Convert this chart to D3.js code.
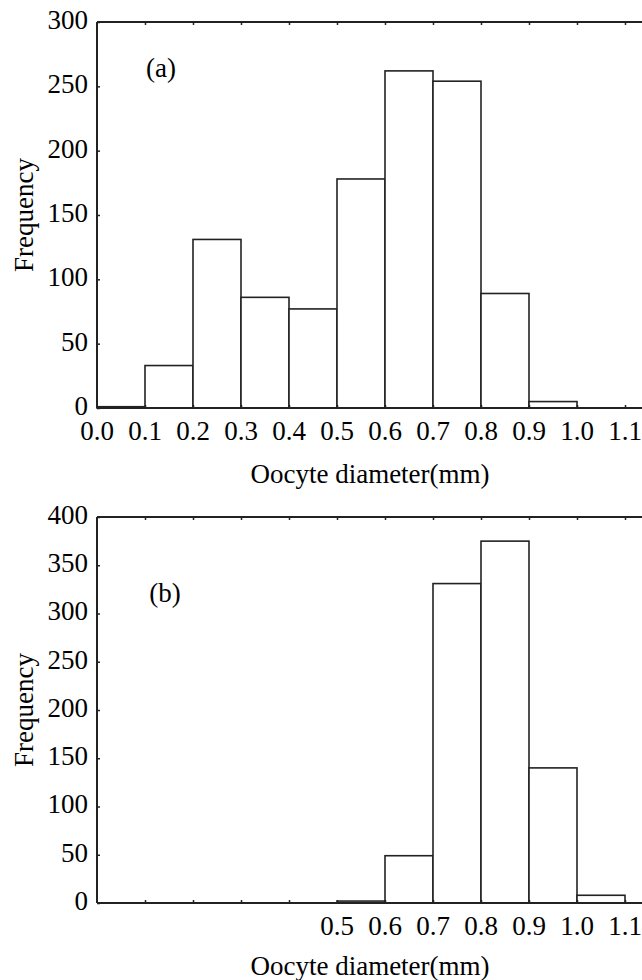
<!DOCTYPE html>
<html><head><meta charset="utf-8">
<script src="https://cdn.jsdelivr.net/npm/d3@7"></script>
<style>body{margin:0;background:#fff}svg{display:block}text{font-family:"Liberation Serif","Times New Roman",serif;fill:#000}</style>
</head><body><svg id="c" width="642" height="980"></svg>
<script>
const binStarts = [0.0,0.1,0.2,0.3,0.4,0.5,0.6,0.7,0.8,0.9,1.0];
const freqA = [1,33,131,86,77,178,262,254,89,5,0];
const freqB = [0,0,0,0,0,2,49,331,375,140,8];
const xTicksA = ["0.0","0.1","0.2","0.3","0.4","0.5","0.6","0.7","0.8","0.9","1.0","1.1"];
const xTicksB = ["0.5","0.6","0.7","0.8","0.9","1.0","1.1"];
const yTicksA = [0,50,100,150,200,250,300];
const yTicksB = [0,50,100,150,200,250,300,350,400];
const panels = [
  {label:"(a)", freq:freqA, xt:xTicksA, yt:yTicksA, ymax:300, top:22, bottom:408, lab:[161,77], xlabY:483, ticklabY:440},
  {label:"(b)", freq:freqB, xt:xTicksB, yt:yTicksB, ymax:400, top:517, bottom:903, lab:[165,602], xlabY:975, ticklabY:935}
];
const FS = 27;
const svg = d3.select("#c");
const bw = 0.1;
const x = d3.scaleLinear().domain([0,1.2]).range([97,673]);
const stroke = "#222";
panels.forEach(p=>{
  const y = d3.scaleLinear().domain([0,p.ymax]).range([p.bottom,p.top]);
  const g = svg.append("g");
  g.selectAll("rect.bar").data(binStarts.map((b,i)=>({b,v:p.freq[i]})).filter(d=>d.v>0))
   .enter().append("rect")
   .attr("x",d=>x(d.b)).attr("width",d=>x(d.b+bw)-x(d.b))
   .attr("y",d=>y(d.v)).attr("height",d=>y(0)-y(d.v))
   .attr("fill","#fff").attr("stroke",stroke).attr("stroke-width",1.6);
  const ya = g.append("g").attr("transform",`translate(${x(0)},0)`)
    .call(d3.axisLeft(y).tickValues(p.yt).tickSize(-3).tickPadding(9).tickFormat(d3.format("d")));
  const xa = g.append("g").attr("transform",`translate(0,${p.top})`)
    .call(d3.axisTop(x).tickValues(d3.range(1,13).map(i=>i/10)).tickSize(-3).tickFormat(""));
  const xb = g.append("g").attr("transform",`translate(0,${p.bottom})`)
    .call(d3.axisBottom(x).tickValues(d3.range(1,13).map(i=>i/10)).tickSize(-3).tickFormat(""));
  [ya,xa,xb].forEach(a=>{
    a.select(".domain").attr("stroke",stroke).attr("stroke-width",2);
    a.selectAll(".tick line").attr("stroke",stroke).attr("stroke-width",1.5);
  });
  xa.select(".domain").attr("d",`M${x(0)},0H${x(1.2)}`);
  xb.select(".domain").attr("d",`M${x(0)},0H${x(1.2)}`);
  ya.select(".domain").attr("d",`M0,${p.bottom}V${p.top}`);
  ya.selectAll("text").attr("font-size",FS).attr("font-family","Liberation Serif").attr("fill","#000").attr("dy","0.24em");
  g.selectAll("text.xt").data(p.xt).enter().append("text")
   .attr("x",d=>x(+d)).attr("y",p.ticklabY).attr("text-anchor","middle")
   .attr("font-size",FS).text(d=>d);
  g.append("text").attr("x",370).attr("y",p.xlabY).attr("text-anchor","middle")
   .attr("font-size",FS).text("Oocyte diameter(mm)");
  g.append("text").attr("transform",`translate(33,${(p.top+p.bottom)/2}) rotate(-90)`)
   .attr("text-anchor","middle").attr("font-size",FS).text("Frequency");
  g.append("text").attr("x",p.lab[0]).attr("y",p.lab[1]).attr("text-anchor","middle")
   .attr("font-size",FS).text(p.label);
});
</script></body></html>
